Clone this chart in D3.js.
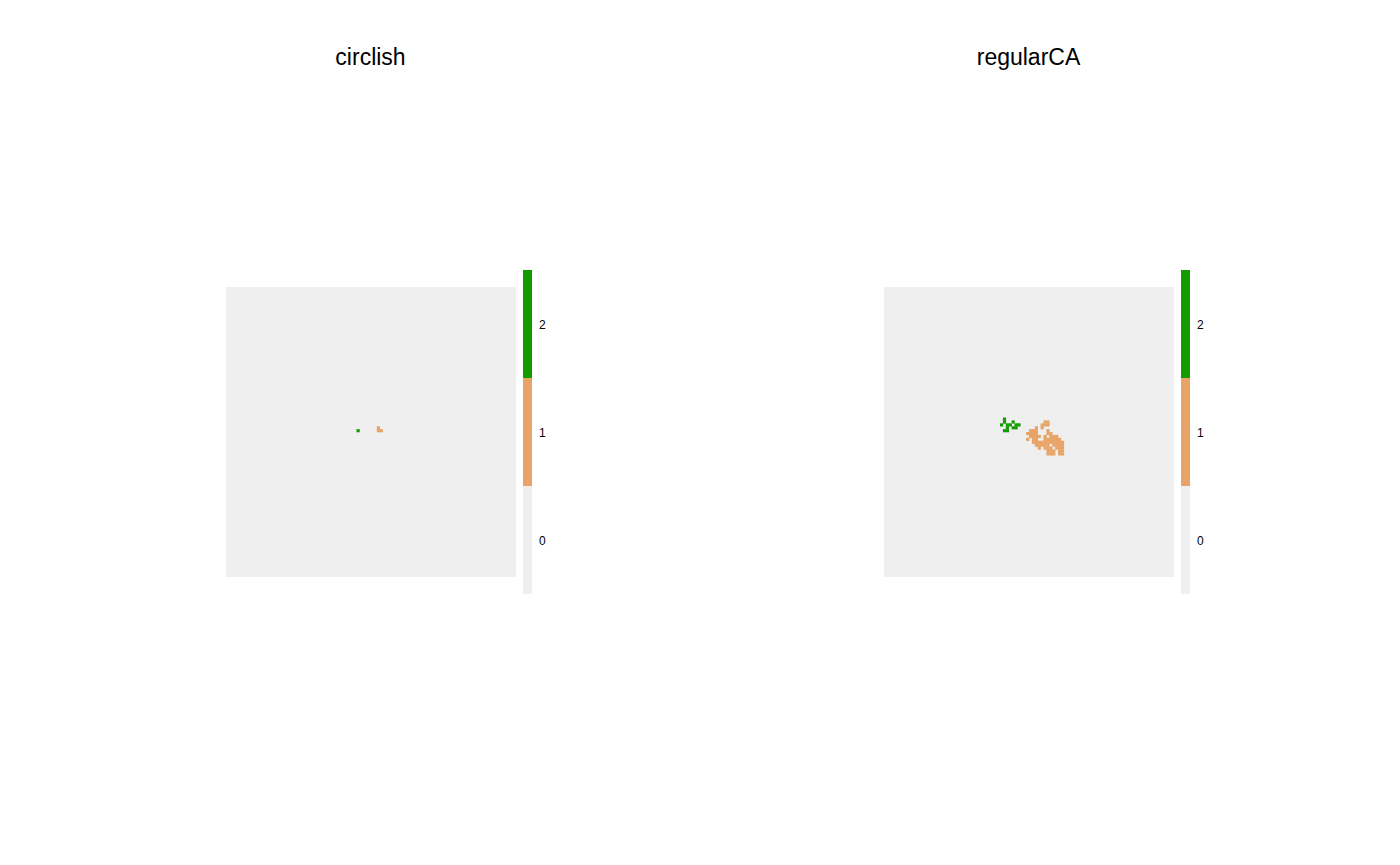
<!DOCTYPE html>
<html><head><meta charset="utf-8">
<script src="https://cdn.jsdelivr.net/npm/d3@7"></script>
<style>body{margin:0;background:#fff}svg{display:block}text{font-family:"Liberation Sans",Arial,sans-serif}</style>
</head><body><svg id="c" width="1400" height="865"></svg>
<script>
const gridSize = 100;
const panelTitles = ["circlish", "regularCA"];
const legendValues = [0, 1, 2];
const legendLabels = ["0", "1", "2"];
const stateColors = ["#efefef", "#e8a466", "#149b00"];
// non-zero cells: [col, row, state]
const circlishCells = [[45,49,2],[52,48,1],[52,49,1],[53,49,1]];
const regularGreen = [[41,45],[41,46],[44,46],[40,47],[42,47],[43,47],[45,47],[46,47],[42,48],[44,48],[45,48],[41,49],[42,49]];
const regularOrangeRows = [
  [46,[55,56]],[47,[54,55,56]],[48,[52,54]],[49,[50,51,52,56]],[50,[49,50,51,52,56,57]],
  [51,[50,51,52,53,55,57,58,59]],[52,[49,51,52,55,56,57,58,59,60]],[53,[51,52,53,54,55,56,57,58,59,60,61]],
  [54,[52,53,54,55,56,58,59,60,61]],[55,[53,55,56,57,59,60,61]],[56,[56,57,58,60,61]],[57,[56,57,58,60,61]]
];
const regularCells = regularGreen.map(d => [d[0], d[1], 2])
  .concat(regularOrangeRows.flatMap(r => r[1].map(c => [c, r[0], 1])));
const panelCells = [circlishCells, regularCells];

const svg = d3.select("#c");
const color = d3.scaleOrdinal().domain(legendValues).range(stateColors);
const idx = d3.range(gridSize);
const panelX = [226, 884], panelY = 287, size = 290;

panelTitles.forEach((t, i) => {
  const g = svg.append("g").attr("transform", `translate(${panelX[i]},${panelY})`);
  const x = d3.scaleBand().domain(idx).range([0, size]);
  const y = d3.scaleBand().domain(idx).range([0, size]);
  g.append("rect").attr("width", size).attr("height", size).attr("fill", color(0));
  g.selectAll("rect.cell").data(panelCells[i]).join("rect").attr("class", "cell")
    .attr("x", d => x(d[0])).attr("y", d => y(d[1]))
    .attr("width", x.bandwidth() + 0.3).attr("height", y.bandwidth() + 0.3)
    .attr("fill", d => color(d[2]));
  svg.append("text").attr("x", panelX[i] + size / 2 - 0.5).attr("y", 65)
    .attr("text-anchor", "middle").attr("font-size", 23).attr("fill", "#000").text(t);
  // legend
  const lg = svg.append("g").attr("transform", `translate(${panelX[i] + 297},0)`);
  const ly = d3.scaleBand().domain(legendValues.slice().reverse()).range([270, 594]);
  lg.selectAll("rect").data(legendValues).join("rect")
    .attr("x", 0).attr("y", d => ly(d)).attr("width", 9).attr("height", ly.bandwidth())
    .attr("fill", d => color(d));
  lg.selectAll("text").data(legendValues).join("text")
    .attr("x", 16).attr("y", d => ly(d) + ly.bandwidth() / 2 + 4.5)
    .attr("font-size", 12).attr("fill", "#000").text((d, j) => legendLabels[j]);
});
</script></body></html>
